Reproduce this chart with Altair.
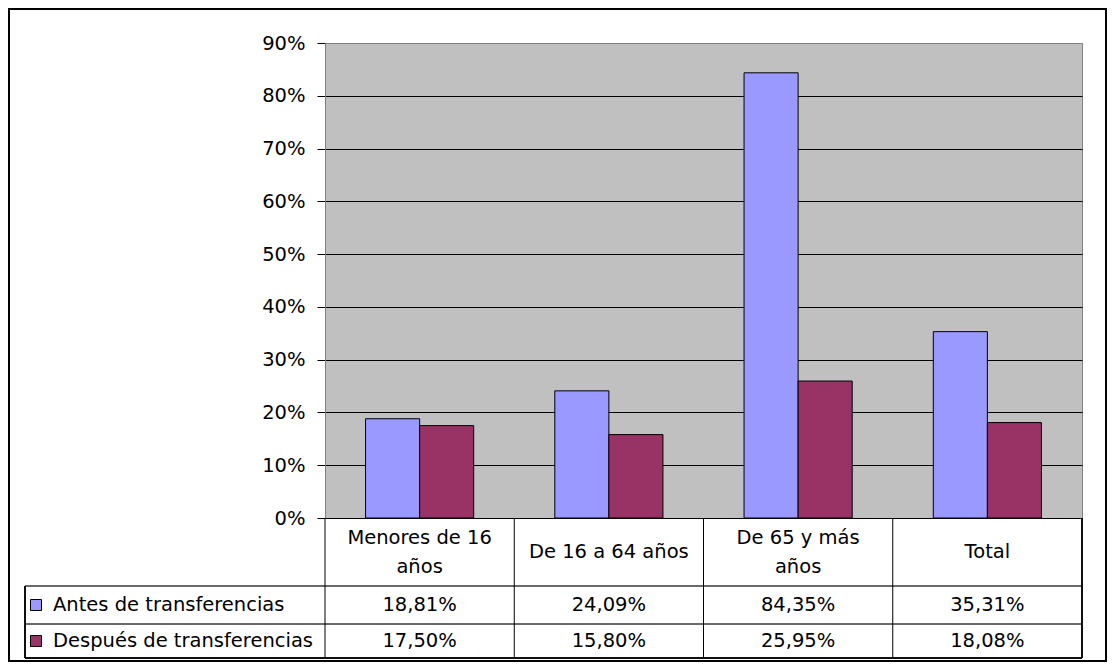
import altair as alt
import pandas as pd

# ---------------- data ----------------
categories = ["Menores de 16\naños", "De 16 a 64 años", "De 65 y más\naños", "Total"]
series = ["Antes de transferencias", "Después de transferencias"]
antes = [18.81, 24.09, 84.35, 35.31]
despues = [17.50, 15.80, 25.95, 18.08]
colors = ["#9999FF", "#993366"]
y_ticks = [0.0, 0.1, 0.2, 0.3, 0.4, 0.5, 0.6, 0.7, 0.8, 0.9]

FONT = "DejaVu Sans"
FS = 19.5
W, H = 757, 475
LH = 29

def fmt(v):
    return f"{v:.2f}".replace(".", ",") + "%"

rows = []
for s, vals in zip(series, [antes, despues]):
    for c, v in zip(categories, vals):
        rows.append({"cat": c, "serie": s, "value": v / 100.0, "label": fmt(v)})
df = pd.DataFrame(rows)
cats_df = pd.DataFrame({"cat": categories})
series_df = pd.DataFrame({"serie": series})

x_scale = alt.Scale(domain=categories, paddingInner=0, paddingOuter=0)
color_scale = alt.Scale(domain=series, range=colors)

def X():
    return alt.X("cat:N", sort=categories, scale=x_scale, axis=None)

base = alt.Chart(df)

bars = base.mark_bar(stroke="black", strokeWidth=1).encode(
    x=X(),
    xOffset=alt.XOffset("serie:N", sort=series,
                        scale=alt.Scale(domain=series, paddingInner=0, paddingOuter=0.75)),
    y=alt.Y("value:Q",
            scale=alt.Scale(domain=[0, 0.9], nice=False, zero=True),
            axis=alt.Axis(values=y_ticks, format=".0%", title=None, grid=True,
                          gridColor=alt.condition("datum.value >= 0.89", alt.value("#808080"), alt.value("black")),
                          gridWidth=1, tickSize=8, tickColor="black", domainColor="#808080",
                          labelFont=FONT, labelFontSize=FS, labelColor="black",
                          labelPadding=12)),
    color=alt.Color("serie:N", scale=color_scale, legend=None),
)

# table header text
y_header = 509
y_row = [562, 598]
single = cats_df[~cats_df["cat"].str.contains("\n")]
double = cats_df[cats_df["cat"].str.contains("\n")]
header1 = alt.Chart(single).mark_text(
    font=FONT, fontSize=FS, color="black", baseline="middle", align="center"
).encode(x=X(), y=alt.value(y_header), text="cat:N")
header2 = alt.Chart(double).mark_text(
    font=FONT, fontSize=FS, color="black", baseline="middle", align="center",
    lineBreak="\n", lineHeight=LH
).encode(x=X(), y=alt.value(y_header - LH / 2), text="cat:N")

layers = [bars, header1, header2]

for i, s in enumerate(series):
    sub = df[df["serie"] == s]
    layers.append(
        alt.Chart(sub).mark_text(font=FONT, fontSize=FS, color="black",
                                 baseline="middle", align="center")
        .encode(x=X(), y=alt.value(y_row[i]), text="label:N")
    )
    sdf = series_df[series_df["serie"] == s]
    layers.append(
        alt.Chart(sdf).mark_square(size=121, stroke="black", strokeWidth=1, opacity=1)
        .encode(x=alt.value(-289), y=alt.value(y_row[i]),
                color=alt.Color("serie:N", scale=color_scale, legend=None))
    )
    layers.append(
        alt.Chart(sdf).mark_text(font=FONT, fontSize=FS, color="black",
                                 baseline="middle", align="left")
        .encode(x=alt.value(-272), y=alt.value(y_row[i]), text="serie:N")
    )

# table grid lines
y_head_bottom, y_r1_bottom, y_r2_bottom = 543, 581, 615
leg_left = -300
for yy, col in [(y_head_bottom, "#606060"), (y_r1_bottom, "#606060"), (y_r2_bottom, "black")]:
    layers.append(alt.Chart(cats_df).mark_rule(color=col, strokeWidth=1).encode(
        x=alt.value(leg_left), x2=alt.value(W), y=alt.value(yy)))
layers.append(alt.Chart(cats_df).mark_rule(color="black", strokeWidth=1).encode(
    x=alt.X("cat:N", sort=categories, scale=x_scale, axis=None, bandPosition=0),
    y=alt.value(H), y2=alt.value(y_r2_bottom)))
layers.append(alt.Chart(cats_df).mark_rule(color="black", strokeWidth=1).encode(
    x=alt.value(W), y=alt.value(H), y2=alt.value(y_r2_bottom)))
layers.append(alt.Chart(cats_df).mark_rule(color="black", strokeWidth=1).encode(
    x=alt.value(leg_left), y=alt.value(y_head_bottom), y2=alt.value(y_r2_bottom)))

# outer frame
layers.append(alt.Chart(cats_df).mark_rect(fillOpacity=0, stroke="black", strokeWidth=2).encode(
    x=alt.value(-316), x2=alt.value(781), y=alt.value(-34), y2=alt.value(618)))

chart = alt.layer(*layers).properties(
    width=W, height=H,
    autosize=alt.AutoSizeParams(type="none"),
    padding={"left": 317, "top": 35, "right": 25, "bottom": 145},
    background="white",
).configure_view(fill="#C0C0C0", stroke="#808080", strokeWidth=1)

chart.save("out.html", embed_options={"renderer": "svg", "actions": False})
